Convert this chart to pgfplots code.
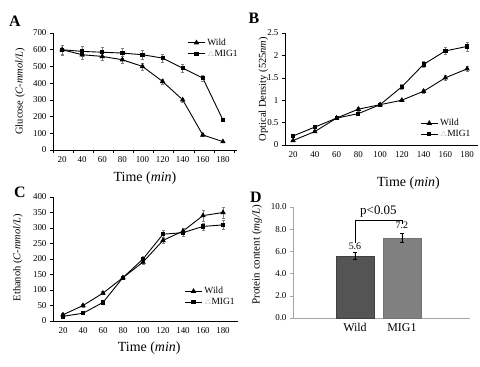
\documentclass[border=0pt]{standalone}
\usepackage{pgfplots}
\pgfplotsset{compat=1.18}
\usepackage{fontspec}
\setmainfont{Liberation Serif}

\pgfplotstableread{
x y e
20 600 25
40 570 25
60 560 25
80 540 20
100 500 20
120 410 15
140 300 12
160 90 10
180 50 5
}\Awild
\pgfplotstableread{
x y e
20 600 30
40 590 30
60 585 30
80 580 30
100 570 28
120 550 25
140 490 25
160 430 20
180 180 8
}\Amig
\pgfplotstableread{
x y e
20 0.1 0.02
40 0.3 0.02
60 0.6 0.02
80 0.8 0.04
100 0.9 0.03
120 1.0 0.03
140 1.2 0.04
160 1.5 0.05
180 1.7 0.06
}\Bwild
\pgfplotstableread{
x y e
20 0.2 0.02
40 0.4 0.03
60 0.6 0.02
80 0.7 0.03
100 0.9 0.03
120 1.3 0.05
140 1.8 0.07
160 2.1 0.08
180 2.2 0.1
}\Bmig
\pgfplotstableread{
x y e
20 20 4
40 50 4
60 90 5
80 140 5
100 190 8
120 260 10
140 290 10
160 340 18
180 350 18
}\Cwild
\pgfplotstableread{
x y e
20 15 3
40 25 3
60 60 5
80 140 5
100 200 8
120 280 12
140 285 12
160 305 12
180 310 15
}\Cmig

\pgfplotsset{
  panel/.style={
    scale only axis, axis lines*=left, tick align=outside, tick pos=left,
    major tick length=3bp, minor tick length=3bp,
    tick style={black, line width=0.5bp}, axis line style={line width=0.6bp},
    tick label style={font=\fontsize{9}{10}\selectfont},
    /pgf/number format/assume math mode=true,
    ylabel style={font=\fontsize{10.5}{12}\selectfont, anchor=center},
    xlabel style={font=\fontsize{14}{16}\selectfont, anchor=center},
    legend style={draw=none, fill=none, font=\fontsize{9.5}{10}\selectfont, inner sep=0pt, row sep=-1bp},
    legend cell align=left,
  },
  wild/.style={black, line width=0.9bp, mark=triangle*, mark size=2.3bp, mark options={solid, fill=black},
    error bars/.cd, y dir=both, y explicit, error bar style={gray, line width=0.5bp}, error mark options={rotate=90, mark size=1.5bp, gray}},
  mig/.style={black, line width=0.9bp, mark=square*, mark size=1.6bp, mark options={solid, fill=black},
    error bars/.cd, y dir=both, y explicit, error bar style={gray, line width=0.5bp}, error mark options={rotate=90, mark size=1.5bp, gray}},
}

\begin{document}
\begin{tikzpicture}
\path[use as bounding box] (0,0) rectangle (480bp,367bp);

% Panel A
\begin{axis}[panel, at={(53bp,217bp)}, anchor=south west, width=184bp, height=117bp,
  xmin=11, xmax=194, ymin=0, ymax=700, ytick={0,100,...,700},
  xtick={20,40,...,180}, minor xtick={11,31,...,191},
  major x tick style={draw=none}, minor x tick style={black, line width=0.5bp},
  ylabel={Glucose (\textit{C-mmol/L})}, xlabel={Time (\textit{min})},
  ylabel style={at={(axis description cs:-0.179,0.5)}},
  xlabel style={at={(axis description cs:0.5,-0.24)}},
  legend style={at={(axis description cs:0.73,0.97)}, anchor=north west}]
\addplot[wild] table[x=x,y=y,y error=e] {\Awild};
\addplot[mig] table[x=x,y=y,y error=e] {\Amig};
\legend{Wild, {\color{gray!70}$\scriptstyle\triangle$}MIG1}
\end{axis}

% Panel B
\begin{axis}[panel, at={(285bp,222bp)}, anchor=south west, width=193bp, height=112bp,
  xmin=12.6, xmax=190, ymin=0, ymax=2.5, ytick={0,0.5,...,2.5},
  xtick={20,40,...,180}, major x tick style={draw=none},
  ylabel={Optical Density (525\textit{nm})}, xlabel={Time (\textit{min})},
  ylabel style={at={(axis description cs:-0.112,0.5)}},
  xlabel style={at={(axis description cs:0.64,-0.34)}},
  legend style={at={(axis description cs:0.70,0.25)}, anchor=north west}]
\addplot[wild] table[x=x,y=y,y error=e] {\Bwild};
\addplot[mig] table[x=x,y=y,y error=e] {\Bmig};
\legend{Wild, {\color{gray!70}$\scriptstyle\triangle$}MIG1}
\end{axis}

% Panel C
\begin{axis}[panel, at={(53bp,46bp)}, anchor=south west, width=185bp, height=124bp,
  xmin=10, xmax=195, ymin=0, ymax=400, ytick={0,50,...,400},
  xtick={20,40,...,180}, major x tick style={draw=none},
  ylabel={Ethanoh (\textit{C-mmol/L})}, xlabel={Time (\textit{min})},
  ylabel style={at={(axis description cs:-0.19,0.51)}},
  xlabel style={at={(axis description cs:0.52,-0.22)}},
  legend style={at={(axis description cs:0.71,0.29)}, anchor=north west}]
\addplot[wild] table[x=x,y=y,y error=e] {\Cwild};
\addplot[mig] table[x=x,y=y,y error=e] {\Cmig};
\legend{Wild, {\color{gray!70}$\scriptstyle\triangle$}MIG1}
\end{axis}

% Panel D
\begin{axis}[panel, at={(293bp,49bp)}, anchor=south west, width=177bp, height=111bp,
  xmin=-0.32, xmax=3.45, ymin=0, ymax=10, ytick={0,2,...,10},
  axis line style={gray!70, line width=0.8bp}, ytick style={gray!70},
  xtick={1,2}, xticklabels={Wild,MIG1}, major x tick style={draw=none},
  x tick label style={font=\fontsize{12}{14}\selectfont, yshift=1bp},
  yticklabel style={/pgf/number format/.cd, fixed, fixed zerofill, precision=1},
  ylabel={Protein content (\textit{mg/L})},
  ylabel style={at={(axis description cs:-0.203,0.57)}, font=\fontsize{11}{12}\selectfont},
  ybar, bar width=0.8, bar shift=0pt,
  nodes near coords, nodes near coords style={font=\fontsize{10}{11}\selectfont, black,
    /pgf/number format/fixed, /pgf/number format/fixed zerofill, /pgf/number format/precision=1},
  clip=false]
\addplot[fill=black!67, draw=black!75, nodes near coords style={/tikz/yshift=3bp},
  error bars/.cd, y dir=both, y explicit, error bar style={black, line width=0.6bp}, error mark options={rotate=90, mark size=2bp, black}]
  table[x=x,y=y,y error=e] {x y e
1 5.6 0.3
};
\addplot[fill=black!50, draw=black!55, nodes near coords style={/tikz/yshift=6bp},
  error bars/.cd, y dir=both, y explicit, error bar style={black, line width=0.6bp}, error mark options={rotate=90, mark size=2bp, black}]
  table[x=x,y=y,y error=e] {x y e
2 7.2 0.4
};
\draw[black, line width=0.5bp] (axis cs:1,6.8) -- (axis cs:1,8.8) -- (axis cs:2,8.8) -- (axis cs:2,8.5);
\node[font=\fontsize{13}{14}\selectfont] at (axis cs:1.5,9.55) {p<0.05};
\end{axis}

\node[font=\bfseries\fontsize{16}{16}\selectfont] at (15bp,346bp) {A};
\node[font=\bfseries\fontsize{16}{16}\selectfont] at (254bp,349bp) {B};
\node[font=\bfseries\fontsize{16}{16}\selectfont] at (20bp,175bp) {C};
\node[font=\bfseries\fontsize{16}{16}\selectfont] at (256bp,170bp) {D};
\end{tikzpicture}
\end{document}
